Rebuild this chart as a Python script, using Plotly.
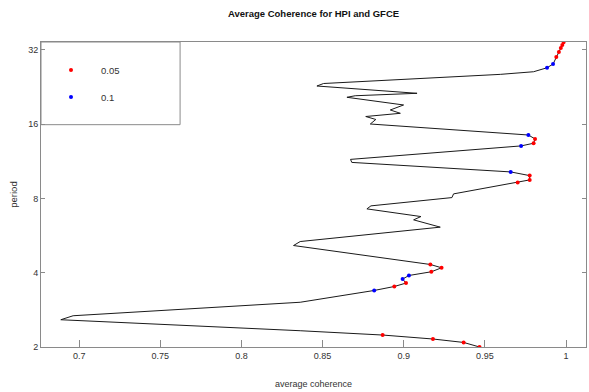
import plotly.graph_objects as go

# Curve: average coherence vs period
coherence = [0.9467, 0.9369, 0.9180, 0.8870, 0.8362, 0.7992, 0.6887, 0.6963,
             0.7992, 0.8362, 0.8818, 0.8942, 0.9014, 0.8993, 0.9032, 0.9170,
             0.9233, 0.9164, 0.8321, 0.8362, 0.9225, 0.9061, 0.9106, 0.8773,
             0.8798, 0.9297, 0.9307, 0.9702, 0.9776, 0.9776, 0.9659, 0.8680,
             0.8672, 0.9723, 0.9800, 0.9809, 0.9768, 0.8794, 0.8828, 0.8766,
             0.8979, 0.8917, 0.8999, 0.8650, 0.8701, 0.9082, 0.8465, 0.8506,
             0.8979, 0.9595, 0.9800, 0.9883, 0.9920, 0.9940, 0.9956, 0.9968,
             0.9977, 0.9985]
period = [2.000, 2.087, 2.155, 2.236, 2.328, 2.388, 2.579, 2.677,
          2.939, 3.036, 3.389, 3.517, 3.631, 3.769, 3.897, 4.034,
          4.187, 4.318, 5.154, 5.349, 6.117, 6.548, 6.753, 7.254,
          7.460, 8.060, 8.342, 9.269, 9.504, 9.893, 10.24, 11.19,
          11.51, 13.05, 13.38, 13.93, 14.45, 16.01, 16.70, 17.17,
          17.69, 18.25, 19.12, 20.54, 20.84, 21.32, 22.82, 23.36,
          24.29, 25.44, 26.07, 27.06, 28.01, 29.90, 31.33, 32.51,
          33.43, 34.29]

# Points significant at 5% (red) and 10% (blue): indices into the curve
sig05_idx = [0, 1, 2, 3, 11, 12, 15, 16, 17, 27, 28, 29, 34, 35, 53, 54, 55, 56, 57]
sig10_idx = [10, 13, 14, 30, 33, 36, 51, 52]

x_ticks = [0.7, 0.75, 0.8, 0.85, 0.9, 0.95, 1.0]
x_tick_text = ["0.7", "0.75", "0.8", "0.85", "0.9", "0.95", "1"]
y_ticks = [2, 4, 8, 16, 32]
y_tick_text = ["2", "4", "8", "16", "32"]

FONT = "Liberation Sans, Arial, sans-serif"
AX = "#8a8a8a"
TXT = "#333333"

fig = go.Figure()
fig.add_trace(go.Scatter(x=coherence, y=period, mode="lines",
                         line=dict(color="#1a1a1a", width=1),
                         showlegend=False, hoverinfo="skip"))
fig.add_trace(go.Scatter(x=[coherence[i] for i in sig05_idx],
                         y=[period[i] for i in sig05_idx],
                         mode="markers", name="0.05",
                         marker=dict(color="#ff0000", size=4, symbol="circle"),
                         legend="legend"))
fig.add_trace(go.Scatter(x=[coherence[i] for i in sig10_idx],
                         y=[period[i] for i in sig10_idx],
                         mode="markers", name="0.1",
                         marker=dict(color="#0000ff", size=4, symbol="circle"),
                         legend="legend2"))

leg_common = dict(x=0.0, xanchor="left", yanchor="middle", bgcolor="rgba(0,0,0,0)",
                  borderwidth=0, itemwidth=50, font=dict(family=FONT, size=9.5, color=TXT))

fig.update_layout(
    width=589, height=392,
    margin=dict(l=41, r=3, t=42, b=45),
    paper_bgcolor="white", plot_bgcolor="white",
    title=dict(text="<b>Average Coherence for HPI and GFCE</b>",
               x=0.5, xref="paper", y=1 - 14 / 392, yref="container",
               xanchor="center", yanchor="middle",
               font=dict(family=FONT, size=9.5, color="#111111")),
    legend=dict(y=0.908, **leg_common),
    legend2=dict(y=0.820, **leg_common),
    xaxis=dict(range=[0.6765, 1.0123], tickvals=x_ticks, ticktext=x_tick_text,
               ticks="inside", ticklen=7, tickcolor=AX, showline=True, linecolor=AX,
               linewidth=1, mirror=True, showgrid=False, zeroline=False,
               tickfont=dict(family=FONT, size=9, color=TXT),
               title=dict(text="average coherence", standoff=20,
                          font=dict(family=FONT, size=9, color=TXT))),
    yaxis=dict(type="log", range=[0.30103, 1.5366], tickvals=y_ticks,
               ticktext=y_tick_text, ticks="inside", ticklen=4, tickcolor=AX,
               showline=True, linecolor=AX, linewidth=1, mirror="ticks",
               showgrid=False, zeroline=False,
               tickfont=dict(family=FONT, size=9, color=TXT),
               title=dict(text="period", standoff=8,
                          font=dict(family=FONT, size=9.5, color=TXT))),
    shapes=[dict(type="rect", xref="paper", yref="paper", x0=0, x1=0.2552,
                 y0=0.7289, y1=1, line=dict(color=AX, width=1), layer="below")],
)

fig.write_html("out.html")
